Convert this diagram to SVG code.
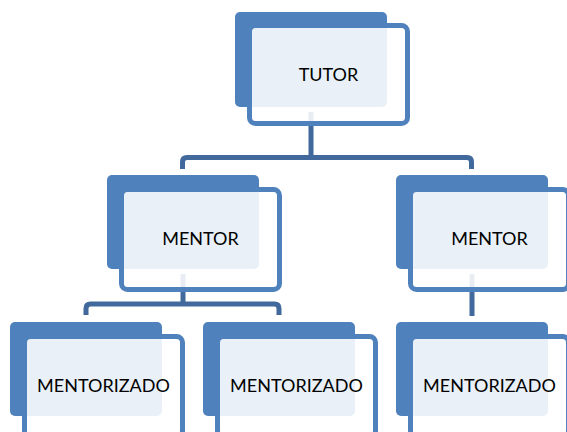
<svg xmlns="http://www.w3.org/2000/svg" width="567" height="432" viewBox="0 0 567 432">
  <style>
    .back { fill: #4F81BD; }
    .front { fill: #FFFFFF; fill-opacity: 0.88; stroke: #4F81BD; stroke-width: 5; }
    .label { font-family: Lato, "Liberation Sans", sans-serif; font-size: 18px; fill: #000000; text-anchor: middle; }
    .conn { fill: none; stroke: #41699C; stroke-width: 5; stroke-linejoin: round; }
  </style>
  <rect width="567" height="432" fill="#FFFFFF"/>
  <g id="connectors">
    <path class="conn" d="M311,112 V157.5"/>
    <path class="conn" d="M182.5,169 V162 Q182.5,157.5 187,157.5 H467 Q471.5,157.5 471.5,162 V169"/>
    <path class="conn" d="M183,274 V304"/>
    <path class="conn" d="M86,315 V308.5 Q86,304 90.5,304 H274.5 Q279,304 279,308.5 V315"/>
    <path class="conn" d="M472,274 V316"/>
  </g>
  <g id="tutor">
    <rect class="back" x="235" y="12" width="152" height="95" rx="5"/>
    <rect class="front" x="249.5" y="25.5" width="158" height="98" rx="6"/>
    <text class="label" x="328.5" y="81">TUTOR</text>
  </g>
  <g id="mentor-left">
    <rect class="back" x="107" y="175" width="152" height="94" rx="5"/>
    <rect class="front" x="121.5" y="189.5" width="158" height="100" rx="6"/>
    <text class="label" x="200.5" y="245">MENTOR</text>
  </g>
  <g id="mentor-right">
    <rect class="back" x="396" y="175" width="152" height="94" rx="5"/>
    <rect class="front" x="410.5" y="189.5" width="158" height="100" rx="6"/>
    <text class="label" x="489.5" y="245">MENTOR</text>
  </g>
  <g id="mentorizado-1">
    <rect class="back" x="10" y="322" width="152" height="94" rx="5"/>
    <rect class="front" x="24.5" y="336.5" width="158" height="100" rx="6"/>
    <text class="label" x="103.5" y="392">MENTORIZADO</text>
  </g>
  <g id="mentorizado-2">
    <rect class="back" x="203" y="322" width="152" height="94" rx="5"/>
    <rect class="front" x="217.5" y="336.5" width="158" height="100" rx="6"/>
    <text class="label" x="296.5" y="392">MENTORIZADO</text>
  </g>
  <g id="mentorizado-3">
    <rect class="back" x="396" y="322" width="152" height="94" rx="5"/>
    <rect class="front" x="410.5" y="336.5" width="158" height="100" rx="6"/>
    <text class="label" x="489.5" y="392">MENTORIZADO</text>
  </g>
</svg>
